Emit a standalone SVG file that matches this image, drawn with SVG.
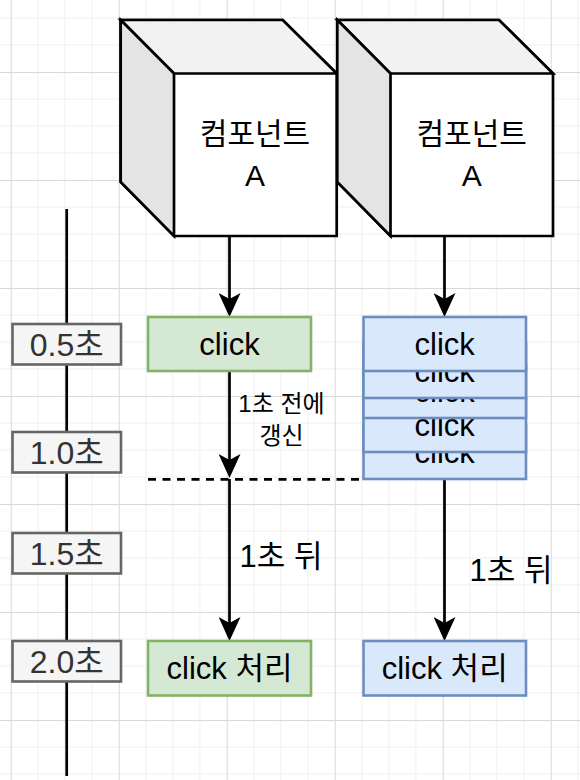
<svg xmlns="http://www.w3.org/2000/svg" width="580" height="780" viewBox="0 0 580 780">
<style>
text{font-family:"Liberation Sans","Noto Sans CJK KR",sans-serif;text-anchor:middle;fill:#000}
.cube{stroke:#000;stroke-width:2.7;stroke-linejoin:miter}
.green{fill:#d5e8d4;stroke:#82b366;stroke-width:2.6}
.blue{fill:#dae8fc;stroke:#6c8ebf;stroke-width:2.6}
.time{fill:#f5f5f5;stroke:#666;stroke-width:2.6}
.time-t{font-size:32px;fill:#333}
.big{font-size:31px}
.cube-t{font-size:30px}
.small{font-size:24px}
.edge{fill:none;stroke:#000;stroke-width:2.7}
</style>
<defs>
<pattern id="grid" x="10.7" y="72" width="108" height="108" patternUnits="userSpaceOnUse">
<path d="M27,0V108M54,0V108M81,0V108M0,27H108M0,54H108M0,81H108" stroke="#efefef" stroke-width="1" fill="none"/>
<path d="M0.5,0V108M0,0.5H108" stroke="#d9d9d9" stroke-width="1" fill="none"/>
</pattern>
<marker id="arr" viewBox="0 0 24 22" refX="6" refY="11" markerWidth="24" markerHeight="22" markerUnits="userSpaceOnUse" orient="auto">
<path d="M0,0L24,11L0,22L6,11Z" fill="#000"/>
</marker>
</defs>
<rect width="580" height="780" fill="#fff"/>
<rect width="580" height="780" fill="url(#grid)"/>
<g id="timeline">
<path d="M66.7,209V776" class="edge"/>
</g>
<g id="connectors">
<path d="M229.5,237V299" class="edge" marker-end="url(#arr)"/>
<path d="M444.5,237V299" class="edge" marker-end="url(#arr)"/>
<path d="M229.5,372V460" class="edge" marker-end="url(#arr)"/>
<path d="M229.5,479V623" class="edge" marker-end="url(#arr)"/>
<path d="M444.5,480V623" class="edge" marker-end="url(#arr)"/>
<path d="M148,479.3H363" class="edge" stroke-dasharray="8 6.5"/>
<text x="281.5" y="412" class="small">1초 전에</text>
<text x="281.5" y="444" class="small">갱신</text>
<text x="281" y="567" class="big">1초 뒤</text>
<text x="511" y="581" class="big">1초 뒤</text>
</g>
<g id="cube1">
<path d="M120.7,20H282.7L336.7,73.5V236H174L120.7,182Z" fill="#fff" class="cube"/>
<path d="M120.7,20H282.7L336.7,73.5H174Z" fill="#f2f2f2" class="cube"/>
<path d="M120.7,20L174,73.5V236L120.7,182Z" fill="#e4e4e4" class="cube"/>
<text x="255" y="144" class="cube-t">컴포넌트</text>
<text x="255" y="185.5" class="cube-t">A</text>
</g>
<g id="cube2">
<path d="M337.3,20H499L553,73.5V236H390.5L337.3,182Z" fill="#fff" class="cube"/>
<path d="M337.3,20H499L553,73.5H390.5Z" fill="#f2f2f2" class="cube"/>
<path d="M337.3,20L390.5,73.5V236L337.3,182Z" fill="#e4e4e4" class="cube"/>
<text x="471.7" y="144" class="cube-t">컴포넌트</text>
<text x="471.7" y="185.5" class="cube-t">A</text>
</g>
<g id="t05"><rect x="12.5" y="324" width="108.5" height="40.5" class="time"/><text x="66.7" y="355.5" class="time-t">0.5초</text></g>
<g id="t10"><rect x="12.5" y="432" width="108.5" height="40.5" class="time"/><text x="66.7" y="463.5" class="time-t">1.0초</text></g>
<g id="t15"><rect x="12.5" y="533" width="108.5" height="40.5" class="time"/><text x="66.7" y="564.5" class="time-t">1.5초</text></g>
<g id="t20"><rect x="12.5" y="641" width="108.5" height="40.5" class="time"/><text x="66.7" y="672.5" class="time-t">2.0초</text></g>
<g id="click-green"><rect x="148" y="317" width="163" height="54" class="green"/><text x="229.5" y="355" class="big">click</text></g>
<g id="click-stack">
<g id="click-b5"><rect x="363.5" y="425" width="162.5" height="54" class="blue"/><text x="444.7" y="463" class="big">click</text></g>
<g id="click-b4"><rect x="363.5" y="398" width="162.5" height="54" class="blue"/><text x="444.7" y="436" class="big">click</text></g>
<g id="click-b3"><rect x="363.5" y="364" width="162.5" height="54" class="blue"/><text x="444.7" y="402" class="big">click</text></g>
<g id="click-b2"><rect x="363.5" y="344" width="162.5" height="54" class="blue"/><text x="444.7" y="382" class="big">click</text></g>
<g id="click-b1"><rect x="363.5" y="317" width="162.5" height="54" class="blue"/><text x="444.7" y="355" class="big">click</text></g>
</g>
<g id="proc-green"><rect x="148" y="641" width="163" height="54.5" class="green"/><text x="229.5" y="678.5" class="big">click 처리</text></g>
<g id="proc-blue"><rect x="363.5" y="641" width="162.5" height="54.5" class="blue"/><text x="444.7" y="678.5" class="big">click 처리</text></g>
</svg>
